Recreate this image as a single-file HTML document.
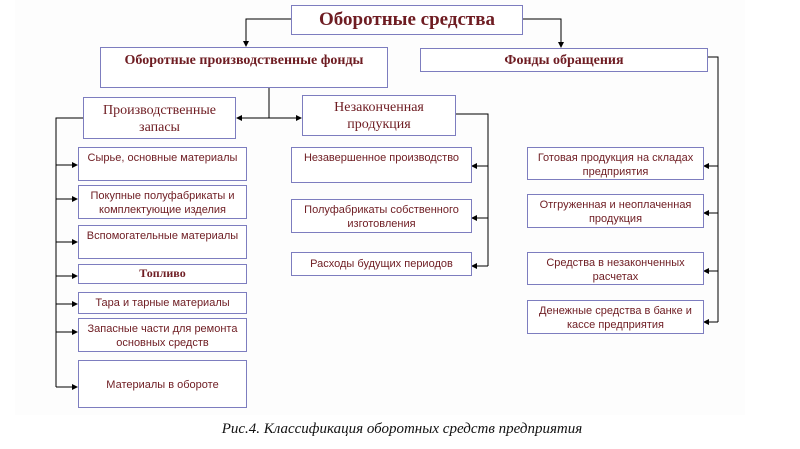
<!DOCTYPE html>
<html><head><meta charset="utf-8"><style>
body{margin:0;width:800px;height:449px;background:#fff;position:relative;overflow:hidden}
.b{position:absolute;box-sizing:border-box;border:1px solid #7d7dbf;background:#fff;color:#6e1c22;text-align:center;font-family:"Liberation Sans",sans-serif;font-size:11px;line-height:14px;padding-top:3px}
.s{font-family:"Liberation Serif",serif;font-size:14px;line-height:17px}
.bold{font-weight:bold}
svg{position:absolute;left:0;top:0}
</style></head><body>
<div style="position:absolute;left:15px;top:0;width:730px;height:415px;background:#fdfdfd"></div>
<svg width="800" height="449">
<defs><marker id="a" markerWidth="6" markerHeight="6" refX="5" refY="3" orient="auto" markerUnits="userSpaceOnUse"><path d="M0,0L6,3L0,6z" fill="#000"/></marker></defs>
<g stroke="#000" stroke-width="1" fill="none">
<polyline points="291,19 246,19 246,46" marker-end="url(#a)"/>
<polyline points="522,19 561,19 561,47" marker-end="url(#a)"/>
<line x1="269" y1="87" x2="269" y2="118"/>
<line x1="269" y1="118" x2="237" y2="118" marker-end="url(#a)"/>
<line x1="269" y1="118" x2="301" y2="118" marker-end="url(#a)"/>
<polyline points="83,118 56,118 56,387"/>
<line x1="56" y1="165" x2="77" y2="165" marker-end="url(#a)"/>
<line x1="56" y1="199" x2="77" y2="199" marker-end="url(#a)"/>
<line x1="56" y1="242" x2="77" y2="242" marker-end="url(#a)"/>
<line x1="56" y1="276" x2="77" y2="276" marker-end="url(#a)"/>
<line x1="56" y1="304" x2="77" y2="304" marker-end="url(#a)"/>
<line x1="56" y1="332" x2="77" y2="332" marker-end="url(#a)"/>
<line x1="56" y1="387" x2="77" y2="387" marker-end="url(#a)"/>
<polyline points="455,114 488,114 488,266"/>
<line x1="488" y1="166" x2="472" y2="166" marker-end="url(#a)"/>
<line x1="488" y1="218" x2="472" y2="218" marker-end="url(#a)"/>
<line x1="488" y1="266" x2="472" y2="266" marker-end="url(#a)"/>
<polyline points="707,57 718,57 718,322"/>
<line x1="718" y1="166" x2="704" y2="166" marker-end="url(#a)"/>
<line x1="718" y1="213" x2="704" y2="213" marker-end="url(#a)"/>
<line x1="718" y1="271" x2="704" y2="271" marker-end="url(#a)"/>
<line x1="718" y1="322" x2="704" y2="322" marker-end="url(#a)"/>
</g></svg>
<div class="b s bold" style="left:291px;top:5px;width:232px;height:30px;font-size:19px;line-height:24px;padding-top:2px">Оборотные средства</div>
<div class="b s bold" style="left:100px;top:47px;width:288px;height:41px;padding-top:4px">Оборотные производственные фонды</div>
<div class="b s bold" style="left:420px;top:48px;width:288px;height:24px;padding-top:3px">Фонды обращения</div>
<div class="b s" style="left:83px;top:97px;width:153px;height:42px;padding-top:4px">Производственные<br>запасы</div>
<div class="b s" style="left:302px;top:95px;width:154px;height:41px;padding-top:3px">Незаконченная<br>продукция</div>
<div class="b" style="left:78px;top:147px;width:169px;height:34px">Сырье, основные материалы</div>
<div class="b" style="left:78px;top:185px;width:169px;height:34px">Покупные полуфабрикаты и<br>комплектующие изделия</div>
<div class="b" style="left:78px;top:225px;width:169px;height:34px">Вспомогательные материалы</div>
<div class="b s bold" style="left:78px;top:264px;width:169px;height:20px;font-size:12px;line-height:15px;padding-top:1px">Топливо</div>
<div class="b" style="left:78px;top:292px;width:169px;height:22px;padding-top:3px">Тара и тарные материалы</div>
<div class="b" style="left:78px;top:318px;width:169px;height:34px">Запасные части для ремонта<br>основных средств</div>
<div class="b" style="left:78px;top:360px;width:169px;height:48px;padding-top:17px">Материалы в обороте</div>
<div class="b" style="left:291px;top:147px;width:181px;height:36px">Незавершенное производство</div>
<div class="b" style="left:291px;top:199px;width:181px;height:34px">Полуфабрикаты собственного<br>изготовления</div>
<div class="b" style="left:291px;top:252px;width:181px;height:24px;padding-top:4px">Расходы будущих периодов</div>
<div class="b" style="left:527px;top:147px;width:177px;height:33px">Готовая продукция на складах<br>предприятия</div>
<div class="b" style="left:527px;top:194px;width:177px;height:34px">Отгруженная и неоплаченная<br>продукция</div>
<div class="b" style="left:527px;top:252px;width:177px;height:33px">Средства в незаконченных<br>расчетах</div>
<div class="b" style="left:527px;top:300px;width:177px;height:34px">Денежные средства в банке и<br>кассе предприятия</div>
<div style="position:absolute;left:180px;top:421px;width:444px;text-align:center;font-family:'Liberation Serif',serif;font-style:italic;font-size:15px;color:#111">Рис.4. Классификация оборотных средств предприятия</div>
</body></html>
